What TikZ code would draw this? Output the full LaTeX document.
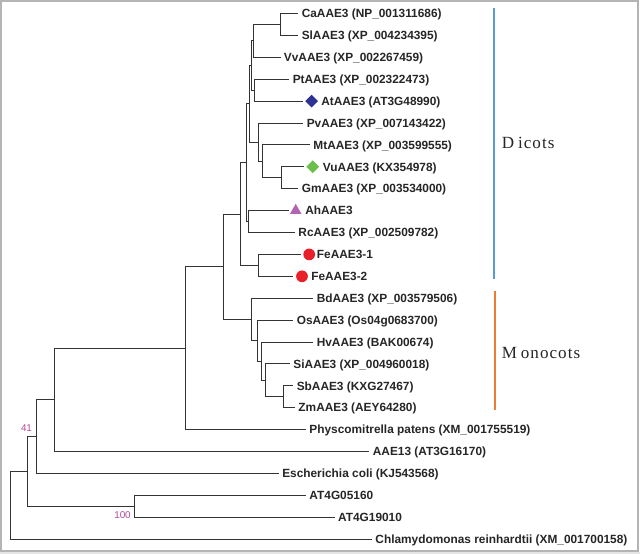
\documentclass[tikz,border=0pt]{standalone}
\usepackage{fontspec}
\setmainfont{Liberation Sans}
\newfontfamily\cladefont[LetterSpace=6]{Liberation Serif}
\usetikzlibrary{shapes.geometric}
\definecolor{mknavy}{HTML}{2E3192}
\definecolor{mkgreen}{HTML}{6CBF4A}
\definecolor{mkpurple}{HTML}{B462B4}
\definecolor{mkred}{HTML}{E8202A}
\definecolor{bsmag}{HTML}{B04A9A}
\definecolor{dicotblue}{HTML}{5B9BD5}
\definecolor{monoorange}{HTML}{ED7D31}
\definecolor{framegray}{HTML}{B4B4B4}
\definecolor{branchgray}{HTML}{333333}
\tikzset{
  branch/.style={draw=branchgray, line width=0.7pt},
  leaf/.style={anchor=west, inner xsep=2.4pt, inner ysep=0pt, text height=6.4pt, text depth=0pt,
    font=\bfseries\fontsize{8.9}{10}\selectfont, text=black!85},
  mkdiamond/.style={diamond, inner sep=0pt, minimum width=10.4pt, minimum height=10.4pt, outer sep=1pt},
  mktriangle/.style={regular polygon, regular polygon sides=3, inner sep=0pt, minimum size=10.1pt, outer sep=2pt},
  mkcircle/.style={circle, inner sep=0pt, minimum size=8.8pt, outer sep=2pt},
  bslabel/.style={font=\fontsize{7.4}{8}\selectfont, text=bsmag, inner sep=0pt},
  cladelabel/.style={anchor=west, inner sep=0pt, font=\cladefont\fontsize{12.8}{14}\selectfont, text=black!85},
  cladebar/.style={line width=1.1pt}
}
\begin{document}
\begin{tikzpicture}[x=0.75pt,y=-0.75pt]
\useasboundingbox (0,0) rectangle (640,554);
\fill[white] (0,0) rectangle (640,554);
\fill[black!10] (0,551.5) rectangle (640,554);
\draw[framegray, line width=1.2pt] (1,1) rectangle (638,551);

% internal nodes
\coordinate (cCaSl) at (280.7,24.45);
\coordinate (cA) at (253.3,40.9);
\coordinate (cB) at (254,90.15);
\coordinate (cC) at (251.3,65.5);
\coordinate (cVuGm) at (281.7,177.75);
\coordinate (cMtVG) at (262.7,161.3);
\coordinate (cD) at (258.3,142.2);
\coordinate (cE) at (249.3,103.9);
\coordinate (cG) at (248.3,221.55);
\coordinate (cF) at (246.7,162.7);
\coordinate (cH) at (258.3,265.35);
\coordinate (cI) at (240,214);
\coordinate (cO) at (283.3,396.75);
\coordinate (cN) at (265,380.3);
\coordinate (cM) at (261,361.2);
\coordinate (cL) at (257.7,340.6);
\coordinate (cK) at (251,319.4);
\coordinate (cJ) at (223.3,266.7);
\coordinate (cP) at (185.7,348.2);
\coordinate (cQ) at (54,399.8);
\coordinate (cR) at (36,436.6);
\coordinate (cS) at (134.7,506.25);
\coordinate (cT) at (27.8,471.4);
\coordinate (cRoot) at (10.5,505.3);

% leaves
\node[leaf] (Ca) at (298.3,13.5) {CaAAE3 (NP\_001311686)};
\node[leaf] (Sl) at (298.3,35.4) {SlAAE3 (XP\_004234395)};
\node[leaf] (Vv) at (280.5,57.3) {VvAAE3 (XP\_002267459)};
\node[leaf] (Pt) at (289.3,79.2) {PtAAE3 (XP\_002322473)};
\node[mkdiamond, fill=mknavy] (Atm) at (311.7,101.1) {};
\node[leaf] (At) at (317.8,101.1) {AtAAE3 (AT3G48990)};
\node[leaf] (Pv) at (303.3,123) {PvAAE3 (XP\_007143422)};
\node[leaf] (Mt) at (310,144.9) {MtAAE3 (XP\_003599555)};
\node[mkdiamond, fill=mkgreen] (Vum) at (312.7,166.8) {};
\node[leaf] (Vu) at (319.5,166.8) {VuAAE3 (KX354978)};
\node[leaf] (Gm) at (298.3,188.7) {GmAAE3 (XP\_003534000)};
\node[mktriangle, fill=mkpurple] (Ahm) at (295.7,210.6) {};
\node[leaf] (Ah) at (301.8,210.6) {AhAAE3};
\node[leaf] (Rc) at (295,232.5) {RcAAE3 (XP\_002509782)};
\node[mkcircle, fill=mkred] (Fe1m) at (309.2,254.4) {};
\node[leaf] (Fe1) at (313.5,254.4) {FeAAE3-1};
\node[mkcircle, fill=mkred] (Fe2m) at (302,276.3) {};
\node[leaf] (Fe2) at (307.8,276.3) {FeAAE3-2};
\node[leaf] (Bd) at (313.3,298.2) {BdAAE3 (XP\_003579506)};
\node[leaf] (Os) at (293.3,320.1) {OsAAE3 (Os04g0683700)};
\node[leaf] (Hv) at (313.3,342) {HvAAE3 (BAK00674)};
\node[leaf] (Si) at (290,363.9) {SiAAE3 (XP\_004960018)};
\node[leaf] (Sb) at (293.3,385.8) {SbAAE3 (KXG27467)};
\node[leaf] (Zm) at (295,407.7) {ZmAAE3 (AEY64280)};
\node[leaf] (Phys) at (306,429.6) {Physcomitrella patens (XM\_001755519)};
\node[leaf] (AAE13) at (369.4,451.5) {AAE13 (AT3G16170)};
\node[leaf] (Ecoli) at (278.8,473.4) {Escherichia coli (KJ543568)};
\node[leaf] (AT05) at (306,495.3) {AT4G05160};
\node[leaf] (AT19) at (334.7,517.2) {AT4G19010};
\node[leaf] (Chl) at (372,539.1) {Chlamydomonas reinhardtii (XM\_001700158)};

% branches
\draw[branch] (cCaSl) |- (Ca.west);
\draw[branch] (cCaSl) |- (Sl.west);
\draw[branch] (cA) |- (cCaSl);
\draw[branch] (cA) |- (Vv.west);
\draw[branch] (cB) |- (Pt.west);
\draw[branch] (cB) |- (Atm.west);
\draw[branch] (cC) |- (cA);
\draw[branch] (cC) |- (cB);
\draw[branch] (cVuGm) |- (Vum.west);
\draw[branch] (cVuGm) |- (Gm.west);
\draw[branch] (cMtVG) |- (Mt.west);
\draw[branch] (cMtVG) |- (cVuGm);
\draw[branch] (cD) |- (Pv.west);
\draw[branch] (cD) |- (cMtVG);
\draw[branch] (cE) |- (cC);
\draw[branch] (cE) |- (cD);
\draw[branch] (cG) |- (Ahm.west);
\draw[branch] (cG) |- (Rc.west);
\draw[branch] (cF) |- (cE);
\draw[branch] (cF) |- (cG);
\draw[branch] (cH) |- (Fe1m.west);
\draw[branch] (cH) |- (Fe2m.west);
\draw[branch] (cI) |- (cF);
\draw[branch] (cI) |- (cH);
\draw[branch] (cO) |- (Sb.west);
\draw[branch] (cO) |- (Zm.west);
\draw[branch] (cN) |- (Si.west);
\draw[branch] (cN) |- (cO);
\draw[branch] (cM) |- (Hv.west);
\draw[branch] (cM) |- (cN);
\draw[branch] (cL) |- (Os.west);
\draw[branch] (cL) |- (cM);
\draw[branch] (cK) |- (Bd.west);
\draw[branch] (cK) |- (cL);
\draw[branch] (cJ) |- (cI);
\draw[branch] (cJ) |- (cK);
\draw[branch] (cP) |- (cJ);
\draw[branch] (cP) |- (Phys.west);
\draw[branch] (cQ) |- (cP);
\draw[branch] (cQ) |- (AAE13.west);
\draw[branch] (cR) |- (cQ);
\draw[branch] (cR) |- (Ecoli.west);
\draw[branch] (cS) |- (AT05.west);
\draw[branch] (cS) |- (AT19.west);
\draw[branch] (cT) |- (cR);
\draw[branch] (cT) |- (cS);
\draw[branch] (cRoot) |- (cT);
\draw[branch] (cRoot) |- (Chl.west);

% bootstrap values
\node[bslabel] (b41) at (26.5,428.5) {41};
\node[bslabel] (b100) at (122.5,515.5) {100};

% clade bars
\coordinate (dTop) at (494,8.3);
\coordinate (dBot) at (494,279.3);
\coordinate (mTop) at (495,291);
\coordinate (mBot) at (495,410);
\draw[cladebar, dicotblue] (dTop) -- (dBot);
\draw[cladebar, monoorange] (mTop) -- (mBot);
\node[cladelabel] (dicots) at (501.5,143.3) {D\kern3pt icots};
\node[cladelabel] (monocots) at (501.5,352.7) {M\kern3pt onocots};
\end{tikzpicture}
\end{document}
